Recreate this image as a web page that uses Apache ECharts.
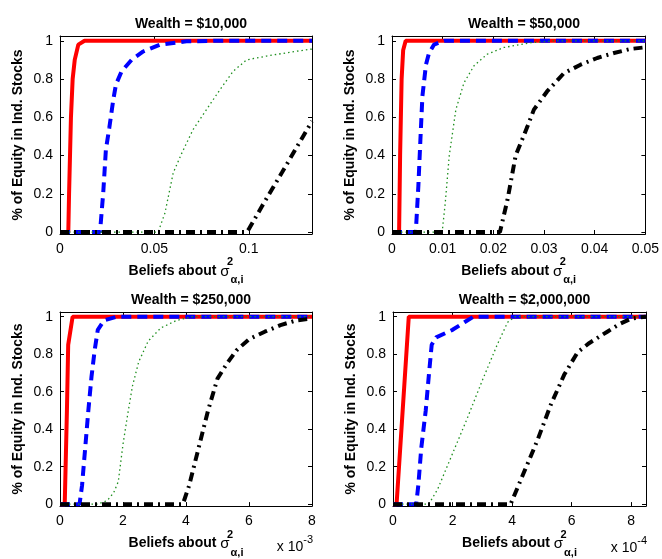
<!DOCTYPE html>
<html>
<head>
	<meta charset="utf-8">
	<title>Wealth panels</title>
	<script src="https://cdn.jsdelivr.net/npm/echarts@6.0.0/dist/echarts.min.js"></script>
	<style type="text/css">
		html, body { margin: 0; padding: 0; background: #ffffff; }
		#chartContainer { width: 662px; height: 559px; }
	</style>
</head>
<body>
	<div id="chartContainer"></div>
	<script type="text/javascript">
		// panel titles
		var titles = ['Wealth = $10,000', 'Wealth = $50,000', 'Wealth = $250,000', 'Wealth = $2,000,000'];

		// tick labels
		var yTicks = [0, 0.2, 0.4, 0.6, 0.8, 1];
		var xTicks10k = [0, 0.05, 0.1];
		var xTicks50k = [0, 0.01, 0.02, 0.03, 0.04, 0.05];
		var xTicks250k = [0, 2, 4, 6, 8];      // x 10^-3
		var xTicks2m = [0, 2, 4, 6, 8];        // x 10^-4
		var xMax = [0.1335, 0.05, 8, 8.5];

		// Wealth = $10,000
		var w10kRed = [[0,0],[0.0044,0],[0.0048,0.2],[0.0058,0.6],[0.0067,0.8],[0.0078,0.9],[0.0097,0.98],[0.013,1],[0.1335,1]];
		var w10kBlue = [[0,0],[0.0212,0],[0.0229,0.205],[0.0243,0.43],[0.0261,0.544],[0.0282,0.69],[0.0296,0.77],[0.0326,0.84],[0.0379,0.9],[0.0441,0.944],[0.0529,0.979],[0.067,0.997],[0.083,1],[0.1335,1]];
		var w10kGreen = [[0,0],[0.052,0],[0.0556,0.1],[0.06,0.31],[0.0644,0.41],[0.0705,0.536],[0.0776,0.64],[0.0847,0.744],[0.0917,0.84],[0.0988,0.9],[0.1094,0.92],[0.1217,0.94],[0.1335,0.957]];
		var w10kBlack = [[0,0],[0.099,0],[0.1,0.015],[0.107,0.135],[0.1175,0.31],[0.1335,0.58]];

		// Wealth = $50,000
		var w50kRed = [[0,0],[0.0014,0],[0.0016,0.4],[0.0019,0.8],[0.0022,0.95],[0.0027,1],[0.05,1]];
		var w50kBlue = [[0,0],[0.0047,0],[0.0052,0.24],[0.0056,0.48],[0.006,0.71],[0.0067,0.875],[0.0073,0.935],[0.0083,0.98],[0.0103,1],[0.05,1]];
		var w50kGreen = [[0,0],[0.0099,0],[0.0105,0.15],[0.0113,0.4],[0.0126,0.64],[0.0142,0.78],[0.0162,0.87],[0.0188,0.93],[0.0221,0.965],[0.0274,0.99],[0.032,1],[0.05,1]];
		var w50kBlack = [[0,0],[0.0213,0],[0.0228,0.17],[0.0244,0.4],[0.0267,0.55],[0.028,0.64],[0.0306,0.735],[0.0339,0.83],[0.0372,0.875],[0.0405,0.91],[0.0438,0.936],[0.047,0.957],[0.05,0.966]];

		// Wealth = $250,000 (x in units of 10^-3)
		var w250kRed = [[0,0],[0.15,0],[0.22,0.5],[0.26,0.85],[0.4,1],[8,1]];
		var w250kBlue = [[0,0],[0.62,0],[0.7,0.1],[0.8,0.3],[0.9,0.5],[1.0,0.68],[1.1,0.82],[1.2,0.93],[1.4,0.98],[1.8,1],[8,1]];
		var w250kGreen = [[0,0],[1.2,0],[1.5,0.02],[1.7,0.06],[1.85,0.12],[2.0,0.32],[2.15,0.48],[2.3,0.63],[2.5,0.76],[2.8,0.87],[3.2,0.94],[3.7,0.98],[4.2,1],[8,1]];
		var w250kBlack = [[0,0],[3.9,0],[4.1,0.1],[4.4,0.3],[4.7,0.5],[5.0,0.67],[5.3,0.75],[5.6,0.82],[6.0,0.88],[6.5,0.92],[7.0,0.955],[7.5,0.98],[8,0.99]];

		// Wealth = $2,000,000 (x in units of 10^-4)
		var w2mRed = [[0,0],[0.12,0],[0.53,1],[8.5,1]];
		var w2mBlue = [[0,0],[0.78,0],[0.85,0.1],[0.95,0.3],[1.1,0.5],[1.2,0.68],[1.3,0.85],[1.45,0.89],[2.0,0.93],[2.4,0.97],[2.7,1],[8.5,1]];
		var w2mGreen = [[0,0],[1.2,0],[1.5,0.08],[2.0,0.27],[2.5,0.46],[3.0,0.66],[3.5,0.85],[3.85,0.97],[4.1,1],[8.5,1]];
		var w2mBlack = [[0,0],[3.95,0],[4.4,0.17],[4.85,0.34],[5.3,0.53],[5.75,0.69],[6.2,0.81],[6.6,0.86],[7.2,0.92],[7.6,0.96],[8.0,0.99],[8.5,1]];

		var panelData = [
			[w10kRed, w10kBlue, w10kGreen, w10kBlack],
			[w50kRed, w50kBlue, w50kGreen, w50kBlack],
			[w250kRed, w250kBlue, w250kGreen, w250kBlack],
			[w2mRed, w2mBlue, w2mGreen, w2mBlack]
		];
		var panelXTicks = [xTicks10k, xTicks50k, xTicks250k, xTicks2m];

		var FONT = 'Liberation Sans, Arial, Helvetica, sans-serif';
		var grids = [
			{left: 60, top: 36, width: 252, height: 198},
			{left: 392, top: 36, width: 254, height: 198},
			{left: 60, top: 312, width: 252, height: 198},
			{left: 393, top: 312, width: 253, height: 198}
		];
		var lineStyles = [
			{color: '#ff0000', width: 4, type: 'solid'},
			{color: '#0000ff', width: 4, type: [10, 6]},
			{color: '#1f8f1f', width: 1.3, type: [1.5, 3]},
			{color: '#000000', width: 4, type: [9, 5, 2, 5]}
		];

		var xAxes = [], yAxes = [], series = [], titleList = [];
		var xName = '{b|Beliefs about }{s|σ}{p|2}{i|α,i}';
		var xNameRich = {
			b: {fontFamily: FONT, fontSize: 14, fontWeight: 'bold', color: '#000'},
			s: {fontFamily: FONT, fontSize: 15, color: '#000'},
			p: {fontFamily: FONT, fontSize: 11, fontWeight: 'bold', color: '#000', width: 1, padding: [0, 0, 18, 0]},
			i: {fontFamily: FONT, fontSize: 11, fontWeight: 'bold', color: '#000', padding: [18, 0, 0, 0]}
		};

		for (var p = 0; p < 4; p++) {
			var g = grids[p];
			titleList.push({
				text: titles[p],
				left: g.left + g.width / 2,
				top: p < 2 ? 12 : 288,
				textAlign: 'center',
				textStyle: {fontFamily: FONT, fontSize: 14, fontWeight: 'bold', color: '#000'}
			});
			// bottom x axis with labels
			xAxes.push({
				type: 'value', gridIndex: p, min: 0, max: xMax[p], position: 'bottom',
				axisLine: {show: true, onZero: false, lineStyle: {color: '#000', width: 1}},
				axisTick: {show: true, inside: true, length: 4, customValues: panelXTicks[p], lineStyle: {color: '#000'}},
				axisLabel: {show: true, margin: 8, customValues: panelXTicks[p], color: '#000', fontFamily: FONT, fontSize: 14},
				splitLine: {show: false},
				name: xName, nameLocation: 'middle', nameGap: 20,
				nameTextStyle: {rich: xNameRich}
			});
			// top x axis, ticks only
			xAxes.push({
				type: 'value', gridIndex: p, min: 0, max: xMax[p], position: 'top',
				axisLine: {show: true, onZero: false, lineStyle: {color: '#000', width: 1}},
				axisTick: {show: true, inside: true, length: 4, customValues: panelXTicks[p], lineStyle: {color: '#000'}},
				axisLabel: {show: false},
				splitLine: {show: false}
			});
			yAxes.push({
				type: 'value', gridIndex: p, min: -0.01, max: 1.025, position: 'left',
				axisLine: {show: true, onZero: false, lineStyle: {color: '#000', width: 1}},
				axisTick: {show: true, inside: true, length: 4, customValues: yTicks, lineStyle: {color: '#000'}},
				axisLabel: {show: true, margin: 7, customValues: yTicks, color: '#000', fontFamily: FONT, fontSize: 14},
				splitLine: {show: false},
				name: '% of Equity in Ind. Stocks', nameLocation: 'middle', nameGap: 35,
				nameTextStyle: {fontFamily: FONT, fontSize: 14, fontWeight: 'bold', color: '#000'}
			});
			yAxes.push({
				type: 'value', gridIndex: p, min: -0.01, max: 1.025, position: 'right',
				axisLine: {show: true, onZero: false, lineStyle: {color: '#000', width: 1}},
				axisTick: {show: true, inside: true, length: 4, customValues: yTicks, lineStyle: {color: '#000'}},
				axisLabel: {show: false},
				splitLine: {show: false}
			});
			for (var s = 0; s < 4; s++) {
				series.push({
					type: 'line',
					xAxisIndex: p * 2,
					yAxisIndex: p * 2,
					data: panelData[p][s],
					showSymbol: false,
					symbol: 'none',
					lineStyle: lineStyles[s],
					z: 2 + s,
					silent: true
				});
			}
		}

		var expRich = {
			a: {fontFamily: FONT, fontSize: 14, color: '#000'},
			e: {fontFamily: FONT, fontSize: 11, color: '#000', padding: [0, 0, 14, 0]}
		};

		var myChart = echarts.init(document.getElementById('chartContainer'));
		var option = {
			backgroundColor: '#ffffff',
			animation: false,
			title: titleList,
			grid: grids,
			xAxis: xAxes,
			yAxis: yAxes,
			series: series,
			graphic: [
				{type: 'text', x: 313, y: 547, style: {text: '{a|x 10}{e|-3}', rich: expRich, align: 'right', verticalAlign: 'middle'}},
				{type: 'text', x: 647, y: 548, style: {text: '{a|x 10}{e|-4}', rich: expRich, align: 'right', verticalAlign: 'middle'}}
			]
		};
		myChart.setOption(option);
	</script>
</body>
</html>
